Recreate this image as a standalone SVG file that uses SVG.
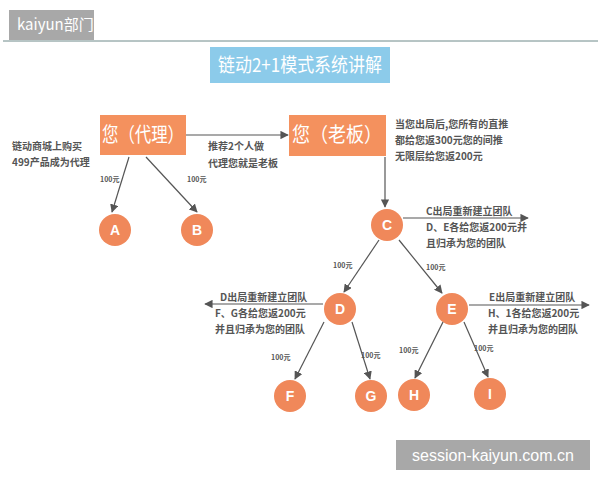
<svg xmlns="http://www.w3.org/2000/svg" width="600" height="480" viewBox="0 0 600 480">
<defs>
<marker id="ar" viewBox="0 0 10 10" refX="9" refY="5" markerWidth="7" markerHeight="7" orient="auto"><path d="M0,0L10,5L0,10z" fill="#555"/></marker>
<style>
.t{font-family:"Noto Sans CJK SC","Liberation Sans",sans-serif}
.s{font-size:10px;font-weight:bold;fill:#555}
.l{font-size:7px;font-weight:bold;fill:#555}
.c{fill:#f0885a}
.cl{font-family:"Liberation Sans",sans-serif;font-weight:bold;font-size:14px;fill:#fff;text-anchor:middle}
.e{stroke:#555;stroke-width:1.2;fill:none}
</style>
</defs>
<rect width="600" height="480" fill="#fff"/>
<rect x="9" y="10" width="85" height="30" fill="#a8a8a8"/>
<text x="17" y="30" class="t" font-size="15" fill="#fff">kaiyun部门</text>
<line x1="3" y1="41" x2="598" y2="41" stroke="#6e8a8a" stroke-width="1"/>
<rect x="210" y="47" width="180" height="36" fill="#8ccbea"/>
<text x="300" y="72" class="t" font-size="19" fill="#fff" text-anchor="middle" textLength="164" lengthAdjust="spacingAndGlyphs">链动2+1模式系统讲解</text>
<g id="agent"><rect x="100" y="115" width="86" height="40" fill="#f4915e"/><text x="143" y="142" class="t" font-size="20" fill="#fff" text-anchor="middle" textLength="82" lengthAdjust="spacingAndGlyphs">您（代理）</text></g>
<g id="boss"><rect x="289" y="115" width="97" height="41" fill="#f4915e"/><text x="337" y="142" class="t" font-size="20" fill="#fff" text-anchor="middle" textLength="90" lengthAdjust="spacingAndGlyphs">您（老板）</text></g>
<g id="nA"><circle cx="115" cy="230" r="16" class="c"/><text x="115" y="235" class="cl">A</text></g>
<g id="nB"><circle cx="197" cy="230" r="16" class="c"/><text x="197" y="235" class="cl">B</text></g>
<g id="nC"><circle cx="387" cy="225" r="16" class="c"/><text x="387" y="230" class="cl">C</text></g>
<g id="nD"><circle cx="340" cy="309" r="16" class="c"/><text x="340" y="314" class="cl">D</text></g>
<g id="nE"><circle cx="452" cy="309" r="16" class="c"/><text x="452" y="314" class="cl">E</text></g>
<g id="nF"><circle cx="290" cy="396" r="16" class="c"/><text x="290" y="401" class="cl">F</text></g>
<g id="nG"><circle cx="371" cy="396" r="16" class="c"/><text x="371" y="401" class="cl">G</text></g>
<g id="nH"><circle cx="414" cy="395" r="16" class="c"/><text x="414" y="400" class="cl">H</text></g>
<g id="nI"><circle cx="490" cy="394" r="16" class="c"/><text x="490" y="399" class="cl">I</text></g>
<g id="connectors" class="e">
<line x1="186" y1="135" x2="288" y2="135" marker-end="url(#ar)"/>
<line x1="129" y1="157" x2="112" y2="212" marker-end="url(#ar)"/>
<line x1="146" y1="157" x2="197" y2="212" marker-end="url(#ar)"/>
<line x1="385" y1="157" x2="385" y2="207" marker-end="url(#ar)"/>
<line x1="403" y1="218" x2="528" y2="218" marker-end="url(#ar)"/>
<line x1="379" y1="240" x2="344" y2="292" marker-end="url(#ar)"/>
<line x1="399" y1="240" x2="442" y2="293" marker-end="url(#ar)"/>
<line x1="323" y1="304" x2="205" y2="304" marker-end="url(#ar)"/>
<line x1="469" y1="305" x2="589" y2="305" marker-end="url(#ar)"/>
<line x1="324" y1="322" x2="295" y2="379" marker-end="url(#ar)"/>
<line x1="352" y1="322" x2="370" y2="379" marker-end="url(#ar)"/>
<line x1="443" y1="322" x2="415" y2="378" marker-end="url(#ar)"/>
<line x1="464" y1="322" x2="488" y2="377" marker-end="url(#ar)"/>
</g>
<g class="t">
<text x="12" y="150" class="s">链动商城上购买</text>
<text x="12" y="166" class="s">499产品成为代理</text>
<text x="208" y="150" class="s">推荐2个人做</text>
<text x="208" y="167" class="s">代理您就是老板</text>
<text x="395" y="128" class="s">当您出局后,您所有的直推</text>
<text x="395" y="144" class="s">都给您返300元您的间推</text>
<text x="395" y="160" class="s">无限层给您返200元</text>
<text x="426" y="215" class="s">C出局重新建立团队</text>
<text x="426" y="231" class="s">D、E各给您返200元并</text>
<text x="426" y="247" class="s">且归承为您的团队</text>
<text x="220" y="301" class="s">D出局重新建立团队</text>
<text x="215" y="317" class="s">F、G各给您返200元</text>
<text x="215" y="333" class="s">并且归承为您的团队</text>
<text x="489" y="301" class="s">E出局重新建立团队</text>
<text x="488" y="317" class="s">H、1各给您返200元</text>
<text x="488" y="333" class="s">并且归承为您的团队</text>
<text x="100" y="182" class="l">100元</text>
<text x="187" y="182" class="l">100元</text>
<text x="333" y="268" class="l">100元</text>
<text x="426" y="270" class="l">100元</text>
<text x="271" y="360" class="l">100元</text>
<text x="361" y="358" class="l">100元</text>
<text x="399" y="353" class="l">100元</text>
<text x="474" y="351" class="l">100元</text>
</g>
<rect x="396" y="440" width="194" height="30" fill="#a8a8a8"/>
<text x="493" y="461" font-family="Liberation Sans,sans-serif" font-size="16" fill="#fff" text-anchor="middle">session-kaiyun.com.cn</text>
</svg>
